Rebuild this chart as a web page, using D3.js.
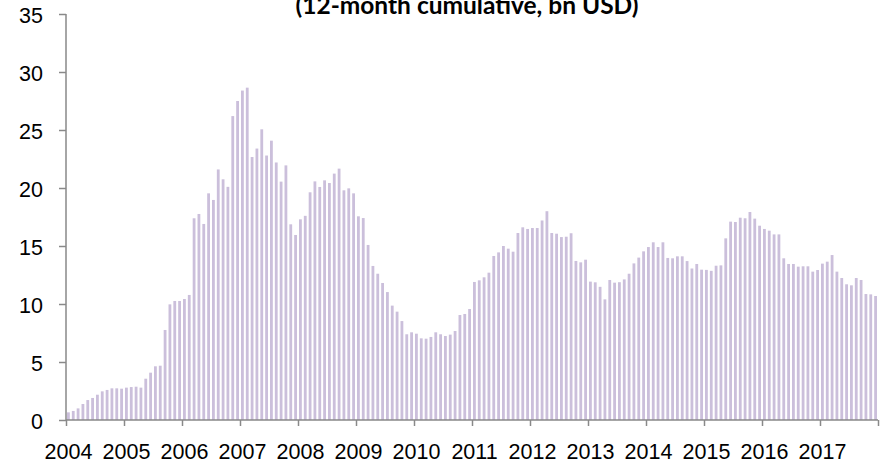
<!DOCTYPE html>
<html>
<head>
<meta charset="utf-8">
<script src="https://cdn.jsdelivr.net/npm/d3@7"></script>
<style>
  body { margin: 0; background: #fff; }
  svg { display: block; font-family: Lato, "Open Sans", sans-serif; }
  .axis path, .axis line { stroke: #898989; stroke-width: 1.5px; }
  .axis text { fill: #000; font-size: 21.5px; }
</style>
</head>
<body>
<svg id="chart"></svg>
<script>
// monthly values, 12-month cumulative, bn USD
const years = [2004, 2005, 2006, 2007, 2008, 2009, 2010, 2011, 2012, 2013, 2014, 2015, 2016, 2017];
const yTicks = [0, 5, 10, 15, 20, 25, 30, 35];
const title = "(12-month cumulative, bn USD)";

const values = [
  0.66, 0.78, 1.0, 1.38, 1.72, 1.9, 2.18, 2.47, 2.59, 2.73, 2.73, 2.7,
  2.79, 2.84, 2.87, 2.79, 3.56, 4.08, 4.63, 4.68, 7.76, 9.97, 10.26, 10.26,
  10.43, 10.78, 17.39, 17.76, 16.9, 19.54, 18.97, 21.6, 20.75, 20.1, 26.2, 27.5,
  28.4, 28.65, 22.67, 23.4, 25.06, 22.8, 24.08, 22.2, 20.55, 21.95, 16.87, 15.95,
  17.3, 17.6, 19.63, 20.57, 20.09, 20.66, 20.43, 21.24, 21.67, 19.8, 19.97, 19.54,
  17.56, 17.41, 15.09, 13.28, 12.61, 11.81, 11.03, 9.86, 9.34, 8.53, 7.39, 7.56,
  7.44, 7.04, 7.01, 7.16, 7.56, 7.39, 7.24, 7.36, 7.67, 9.05, 9.14, 9.57,
  11.9, 12.04, 12.3, 12.7, 14.14, 14.45, 15.0, 14.77, 14.51, 16.12, 16.61, 16.47,
  16.55, 16.55, 17.2, 18.0, 16.12, 16.06, 15.77, 15.8, 16.1, 13.71, 13.59, 13.82,
  11.93, 11.87, 11.48, 10.4, 12.07, 11.84, 11.88, 12.12, 12.61, 13.5, 14.0, 14.54,
  14.91, 15.32, 14.91, 15.32, 13.97, 13.94, 14.11, 14.11, 13.7, 13.06, 13.45, 12.96,
  12.94, 12.86, 13.3, 13.33, 15.66, 17.1, 17.07, 17.44, 17.39, 17.93, 17.36, 16.75,
  16.47, 16.32, 16.0, 16.0, 13.94, 13.45, 13.45, 13.22, 13.25, 13.25, 12.79, 12.93,
  13.48, 13.65, 14.22, 12.79, 12.24, 11.7, 11.61, 12.24, 12.07, 10.86, 10.83, 10.69
];

const W = 883, H = 463;
const margin = { top: 14, right: 5, bottom: 43, left: 66 };
const width = W - margin.left - margin.right,
  height = H - margin.top - margin.bottom;

const svg = d3.select("#chart").attr("width", W).attr("height", H);
const g = svg.append("g")
  .attr("transform", "translate(" + margin.left + "," + margin.top + ")");

const x = d3.scaleBand()
  .domain(d3.range(values.length))
  .range([0, width])
  .paddingInner(0.42)
  .paddingOuter(0.21);

// year ticks sit on the year boundaries
const xYear = d3.scaleLinear()
  .domain([years[0], years[years.length - 1] + 1])
  .range([0, width]);

const y = d3.scaleLinear().domain([0, 35]).range([height, 0]);

// bars
g.selectAll(".bar")
  .data(values)
  .enter()
  .append("rect")
  .attr("class", "bar")
  .attr("x", (d, i) => x(i))
  .attr("width", x.bandwidth())
  .attr("y", (d) => y(d))
  .attr("height", (d) => y(0) - y(d))
  .attr("fill", "#cbbfdb");

// y axis
const yAxis = d3.axisLeft(y).tickValues(yTicks).tickSize(7).tickPadding(16);
g.append("g").attr("class", "y axis").call(yAxis)
  .call((s) => s.select(".domain").attr("d", "M0," + y(35) + "V" + y(0)))
  .selectAll("text").attr("dy", "0.4em");

// x axis
const xAxis = d3.axisBottom(xYear)
  .tickValues(years.concat([years[years.length - 1] + 1]))
  .tickSize(6)
  .tickFormat((d) => (years.includes(d) ? d : ""));
g.append("g").attr("class", "x axis")
  .attr("transform", "translate(0," + height + ")")
  .call(xAxis)
  .call((s) => s.select(".domain").attr("d", "M0,0H" + width))
  .selectAll("text").attr("y", 39).attr("dy", 0).attr("dx", 2);

// title (its upper line is cropped off in the original)
svg.append("text")
  .attr("x", 467)
  .attr("y", 14)
  .attr("text-anchor", "middle")
  .style("font-size", "24.5px")
  .style("font-weight", "bold")
  .text(title);
</script>
</body>
</html>
